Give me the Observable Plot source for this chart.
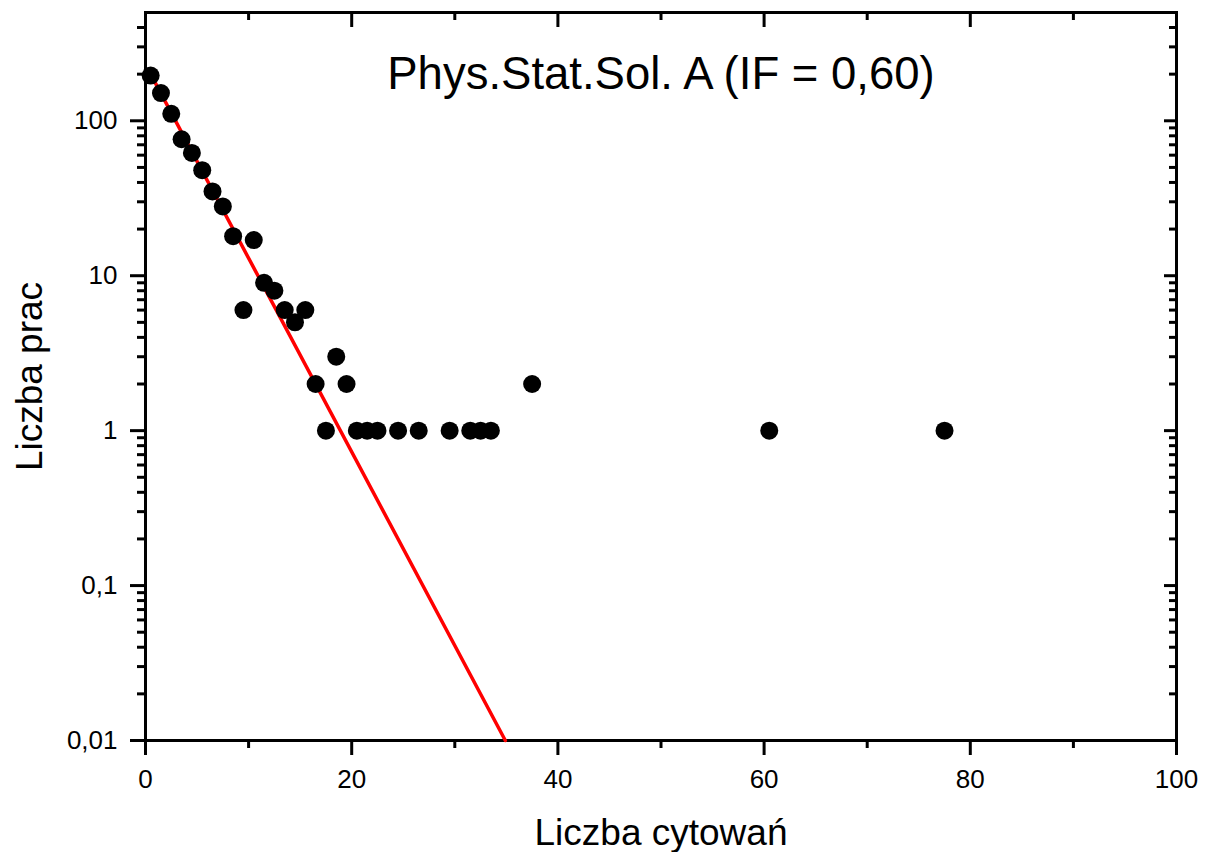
<!DOCTYPE html>
<html><head><meta charset="utf-8">
<script src="https://cdn.jsdelivr.net/npm/d3@7"></script>
<script src="https://cdn.jsdelivr.net/npm/@observablehq/plot@0.6"></script>
<style>
html,body{margin:0;padding:0;background:#fff}
svg{display:block}
</style>
</head><body><div id="chart"></div>
<script>
const citations = [0.5,1.5,2.5,3.5,4.5,5.5,6.5,7.5,8.5,9.5,10.5,11.5,12.5,13.5,14.5,15.5,16.5,17.5,18.5,19.5,20.5,21.5,22.5,24.5,26.5,29.5,31.5,32.5,33.5,37.5,60.5,77.5];
const papers    = [196,151,111,76,62,48,35,28,18,6,17,9,8,6,5,6,2,1,3,2,1,1,1,1,1,1,1,1,1,2,1,1];
const fitX = [0.5, 34.9];
const fitY = [200, 0.01];
const xMajor = [0,20,40,60,80,100];
const xMinor = [10,30,50,70,90];
const yMajor = [0.01,0.1,1,10,100];
const yMinor = [0.02,0.03,0.04,0.05,0.06,0.07,0.08,0.09,0.2,0.3,0.4,0.5,0.6,0.7,0.8,0.9,2,3,4,5,6,7,8,9,20,30,40,50,60,70,80,90,200,300,400];
const title = "Phys.Stat.Sol. A (IF = 0,60)";
const xLabel = "Liczba cytowań";
const yLabel = "Liczba prac";

const points = citations.map((c,i)=>({x:c, y:papers[i]}));
const fit = fitX.map((x,i)=>({x, y:fitY[i]}));
const fmt = d => String(d).replace(".", ",");
const sw = 3;
const tickFont = 26;

const chart = Plot.plot({
  width: 1208, height: 852,
  marginLeft: 145, marginRight: 32, marginTop: 12, marginBottom: 112,
  style: {fontFamily: "'Liberation Sans', Arial, sans-serif", background: "#fff", color: "#000"},
  x: {domain: [0,100]},
  y: {type: "log", domain: [0.01, 500]},
  marks: [
    Plot.axisX({anchor:"bottom", ticks: xMajor, tickSize: 15, text: null, strokeWidth: sw, label: null}),
    Plot.axisX({anchor:"bottom", ticks: xMinor, tickSize: 8, text: null, strokeWidth: sw, label: null}),
    Plot.axisX({anchor:"top", ticks: xMajor, tickSize: 14, dy: 14, text: null, strokeWidth: sw, label: null}),
    Plot.axisX({anchor:"top", ticks: xMinor, tickSize: 7, dy: 7, text: null, strokeWidth: sw, label: null}),
    Plot.axisY({anchor:"left", ticks: yMajor, tickSize: 15, text: null, strokeWidth: sw, label: null}),
    Plot.axisY({anchor:"left", ticks: yMinor, tickSize: 8, text: null, strokeWidth: sw, label: null}),
    Plot.axisY({anchor:"right", ticks: yMajor, tickSize: 13, dx: -13, text: null, strokeWidth: sw, label: null}),
    Plot.axisY({anchor:"right", ticks: yMinor, tickSize: 8, dx: -8, text: null, strokeWidth: sw, label: null}),
    Plot.text(xMajor, {x: d=>d, text: fmt, frameAnchor:"bottom", textAnchor:"middle", lineAnchor:"top", dy: 29, fontSize: tickFont, fill:"#000"}),
    Plot.text(yMajor, {y: d=>d, text: fmt, frameAnchor:"left", textAnchor:"end", lineAnchor:"middle", dx: -28, fontSize: tickFont, fill:"#000"}),
    Plot.frame({stroke: "#000", strokeWidth: sw}),
    Plot.line(fit, {x:"x", y:"y", stroke:"#ff0000", strokeWidth: 3.5}),
    Plot.dot(points, {x:"x", y:"y", r: 9, fill:"#000", stroke: null}),
    Plot.text([title], {text: d=>d, frameAnchor:"top", lineAnchor:"top", dy: 44, fontSize: 45.5, fill:"#000"}),
    Plot.text([xLabel], {text: d=>d, frameAnchor:"bottom", lineAnchor:"top", dy: 78, fontSize: 37, fill:"#000"}),
    Plot.text([yLabel], {text: d=>d, frameAnchor:"left", textAnchor:"middle", lineAnchor:"top", rotate: -90, dx: -130, fontSize: 37, fill:"#000"})
  ]
});
document.getElementById("chart").appendChild(chart);
</script>
</body></html>
